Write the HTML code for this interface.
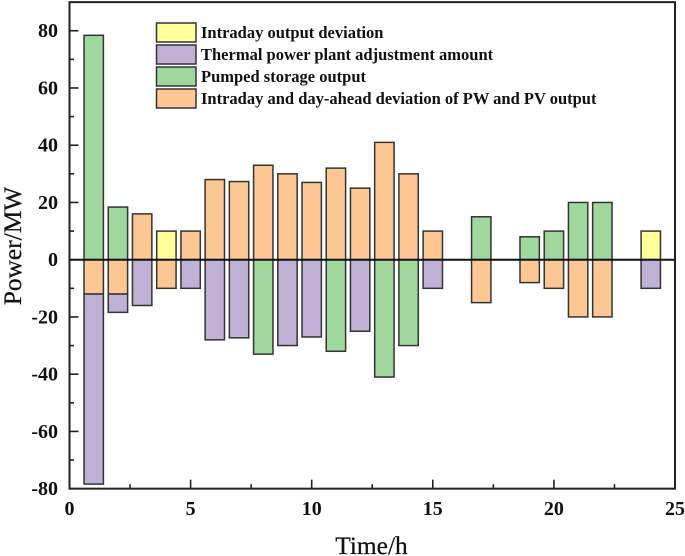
<!DOCTYPE html>
<html>
<head>
<meta charset="utf-8">
<title>Power deviation chart</title>
<style>
html,body{margin:0;padding:0;background:#fff;width:685px;height:556px;overflow:hidden}
svg{display:block;position:absolute;left:0;top:0}
text{font-family:"Liberation Serif",serif;fill:#111}
.tick{font-size:20px;font-weight:bold}
.legend{font-size:16.5px;font-weight:bold}
.title{font-size:25.4px;stroke:#111;stroke-width:0.25px}
</style>
</head>
<body>
<svg id="chart" width="685" height="556" viewBox="0 0 685 556">
  <rect x="0" y="0" width="685" height="556" fill="#fff"/>
  <g id="bars"></g>
  <g id="ticks"></g>
  <g id="labels"></g>
  <line id="zero-line" stroke="#111" stroke-width="2"/>
  <rect id="frame" fill="none" stroke="#222" stroke-width="2"/>
  <g>
    <rect x="156.500" y="23" width="39.500" height="19" fill="#ffff99" stroke="#333" stroke-width="1.500"/>
    <text class="legend" x="201" y="38">Intraday output deviation</text>
    <rect x="156.500" y="45" width="39.500" height="19" fill="#bfb0d6" stroke="#333" stroke-width="1.500"/>
    <text class="legend" x="201" y="60">Thermal power plant adjustment amount</text>
    <rect x="156.500" y="67" width="39.500" height="19" fill="#9fd79c" stroke="#333" stroke-width="1.500"/>
    <text class="legend" x="201" y="82">Pumped storage output</text>
    <rect x="156.500" y="89" width="39.500" height="19" fill="#fdc794" stroke="#333" stroke-width="1.500"/>
    <text class="legend" x="201" y="104">Intraday and day-ahead deviation of PW and PV output</text>
  </g>
  <text class="title" x="371.500" y="554" text-anchor="middle">Time/h</text>
  <text class="title" transform="translate(21 246) rotate(-90)" text-anchor="middle">Power/MW</text>
</svg>
<script>
var hours = [1,2,3,4,5,6,7,8,9,10,11,12,13,14,15,16,17,18,19,20,21,22,23,24];
var yellowUp     = [0,0,0,10,0,0,0,0,0,0,0,0,0,0,0,0,0,0,0,0,0,0,0,10];
var greenUp      = [78.4,18.4,0,0,0,0,0,0,0,0,0,0,0,0,0,0,15,0,8,10,20,20,0,0];
var orangeUp     = [0,0,16,0,10,28,27.3,33,30,27,32,25,41,30,10,0,0,0,0,0,0,0,0,0];
var orangeDown   = [12,12,0,10,0,0,0,0,0,0,0,0,0,0,0,0,15,0,8,10,20,20,0,0];
var purpleDown   = [66.4,6.4,16,0,10,28,27.3,0,30,27,0,25,0,0,10,0,0,0,0,0,0,0,0,10];
var greenDown    = [0,0,0,0,0,0,0,33,0,0,32,0,41,30,0,0,0,0,0,0,0,0,0,0];
var xTickLabels  = [0,5,10,15,20,25];
var yTickLabels  = [80,60,40,20,0,-20,-40,-60,-80];
var xMinorTicks  = [2.5,7.5,12.5,17.5,22.5];
var yMinorTicks  = [70,50,30,10,-10,-30,-50,-70];

var NS = 'http://www.w3.org/2000/svg';
function sx(v){ return 69.5 + v * 24.22; }
function sy(v){ return 259.7 - v * 2.862; }
var barsG = document.getElementById('bars');
var ticksG = document.getElementById('ticks');
var labelsG = document.getElementById('labels');

function drawBar(hour, from, to, fill, key){
  var x0 = sx(hour - 0.4), x1 = sx(hour + 0.4);
  var y0 = sy(Math.max(from, to)), y1 = sy(Math.min(from, to));
  var r = document.createElementNS(NS, 'rect');
  r.setAttribute('x', x0);
  r.setAttribute('y', y0);
  r.setAttribute('width', x1 - x0);
  r.setAttribute('height', y1 - y0);
  r.setAttribute('fill', fill);
  r.setAttribute('stroke', '#333');
  r.setAttribute('stroke-width', '1.5');
  
  
  barsG.appendChild(r);
}
hours.forEach(function(h, i){
  var top = 0;
  if (yellowUp[i]) { drawBar(h, top, top + yellowUp[i], '#ffff99', 'intraday-deviation'); top += yellowUp[i]; }
  if (greenUp[i]) { drawBar(h, top, top + greenUp[i], '#9fd79c', 'pumped-storage'); top += greenUp[i]; }
  if (orangeUp[i]) { drawBar(h, top, top + orangeUp[i], '#fdc794', 'pw-pv-deviation'); top += orangeUp[i]; }
  var bottom = 0;
  if (orangeDown[i]) { drawBar(h, bottom, bottom - orangeDown[i], '#fdc794', 'pw-pv-deviation'); bottom -= orangeDown[i]; }
  if (purpleDown[i]) { drawBar(h, bottom, bottom - purpleDown[i], '#bfb0d6', 'thermal-adjustment'); bottom -= purpleDown[i]; }
  if (greenDown[i]) { drawBar(h, bottom, bottom - greenDown[i], '#9fd79c', 'pumped-storage'); bottom -= greenDown[i]; }
});

function drawTick(x1, y1, x2, y2, name){
  var l = document.createElementNS(NS, 'line');
  l.setAttribute('x1', x1);
  l.setAttribute('y1', y1);
  l.setAttribute('x2', x2);
  l.setAttribute('y2', y2);
  l.setAttribute('stroke', '#222');
  l.setAttribute('stroke-width', '1.6');
  
  
  ticksG.appendChild(l);
}
function drawLabel(x, y, anchor, str, name){
  var t = document.createElementNS(NS, 'text');
  t.setAttribute('class', 'tick');
  t.setAttribute('x', x);
  t.setAttribute('y', y);
  t.setAttribute('text-anchor', anchor);
  t.textContent = str;
  
  
  labelsG.appendChild(t);
}
var axisY = sy(-80), axisX = sx(0);
xTickLabels.forEach(function(v){
  drawTick(sx(v), axisY, sx(v), axisY - 9, 'x-major-tick-' + v);
  drawLabel(sx(v), 515, 'middle', String(v), 'x-tick-label-' + v);
});
xMinorTicks.forEach(function(v){
  drawTick(sx(v), axisY, sx(v), axisY - 4.5, 'x-minor-tick-' + v);
});
yTickLabels.forEach(function(v){
  drawTick(axisX, sy(v), axisX + 9, sy(v), 'y-major-tick-' + v);
  drawLabel(58, sy(v) + 6.5, 'end', String(v), 'y-tick-label-' + v);
});
yMinorTicks.forEach(function(v){
  drawTick(axisX, sy(v), axisX + 4.5, sy(v), 'y-minor-tick-' + v);
});
var zero = document.getElementById('zero-line');
zero.setAttribute('x1', sx(0));
zero.setAttribute('x2', sx(25));
zero.setAttribute('y1', sy(0));
zero.setAttribute('y2', sy(0));
var frame = document.getElementById('frame');
frame.setAttribute('x', sx(0));
frame.setAttribute('y', sy(90));
frame.setAttribute('width', sx(25) - sx(0));
frame.setAttribute('height', sy(-80) - sy(90));
</script>
</body>
</html>
